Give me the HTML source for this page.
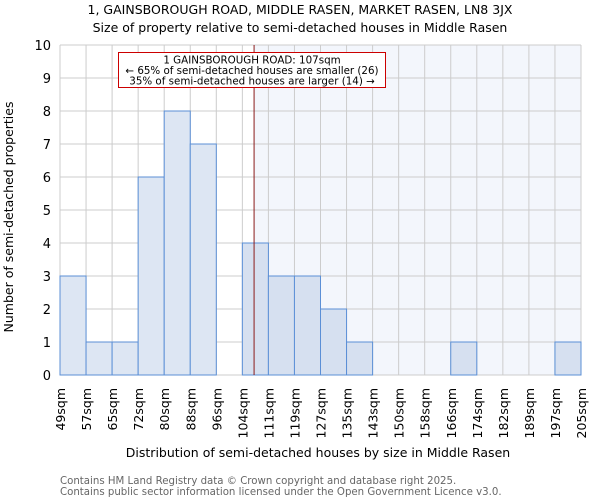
<!DOCTYPE html>
<html><head><meta charset="utf-8"><style>
body{margin:0;background:#fff;font-family:"DejaVu Sans","Liberation Sans",sans-serif}
</style></head><body>
<svg width="600" height="500" xmlns="http://www.w3.org/2000/svg" font-family="DejaVu Sans, Liberation Sans, sans-serif">
<text x="300" y="14" text-anchor="middle" font-size="12.5">1, GAINSBOROUGH ROAD, MIDDLE RASEN, MARKET RASEN, LN8 3JX</text>
<text x="300" y="32" text-anchor="middle" font-size="12.5">Size of property relative to semi-detached houses in Middle Rasen</text>
<g id="plot"></g>
<text x="318" y="457" text-anchor="middle" font-size="12.5">Distribution of semi-detached houses by size in Middle Rasen</text>
<text transform="translate(13,217) rotate(-90)" text-anchor="middle" font-size="12.5">Number of semi-detached properties</text>
<text x="60" y="484" font-size="10.2" fill="#666">Contains HM Land Registry data © Crown copyright and database right 2025.</text>
<text x="60" y="495" font-size="10.2" fill="#666">Contains public sector information licensed under the Open Government Licence v3.0.</text>
</svg>
<script>
const binLabels=["49sqm","57sqm","65sqm","72sqm","80sqm","88sqm","96sqm","104sqm","111sqm","119sqm","127sqm","135sqm","143sqm","150sqm","158sqm","166sqm","174sqm","182sqm","189sqm","197sqm","205sqm"];
const counts=[3,1,1,6,8,7,0,4,3,3,2,1,0,0,0,1,0,0,0,1];
const yTicks=[0,1,2,3,4,5,6,7,8,9,10];
const propertyBin=7.45;
const X0=60,X1=581,Y0=375,Y1=45,N=counts.length,YMAX=10;
const x=i=>X0+(X1-X0)*i/N;
const y=v=>Y0-(Y0-Y1)*v/YMAX;
const NS="http://www.w3.org/2000/svg";
const g=document.getElementById('plot');
function mk(t,a){const e=document.createElementNS(NS,t);for(const k in a)e.setAttribute(k,a[k]);g.appendChild(e);return e;}
let e;
e=mk('rect',{x:x(propertyBin),y:Y1,width:X1-x(propertyBin),height:Y0-Y1,fill:'#f3f6fc'});


for(const t of yTicks){
 e=mk('line',{x1:X0,x2:X1,y1:y(t),y2:y(t),stroke:'#ccc','stroke-width':1});
 
 
 e=mk('text',{x:X0-9,y:y(t)+5,'text-anchor':'end','font-size':13});
 e.textContent=t;
 
 
}
for(let i=0;i<=N;i++){
 e=mk('line',{x1:x(i),x2:x(i),y1:Y1,y2:Y0,stroke:'#ccc','stroke-width':1});
 
 
 e=mk('text',{transform:`translate(${x(i)+5},${388}) rotate(-90)`,'text-anchor':'end','font-size':12.5});
 e.textContent=binLabels[i];
 
 
}
counts.forEach((c,i)=>{
 if(c<=0)return;
 e=mk('rect',{x:x(i),y:y(c),width:x(i+1)-x(i),height:y(0)-y(c),fill:i>=7?'#d6e0f0':'#dde6f3',stroke:'#5b8fd6','stroke-width':1});
 
 
});
e=mk('line',{x1:x(propertyBin),x2:x(propertyBin),y1:Y1,y2:Y0,stroke:'#8b1a1a','stroke-width':1});


e=mk('rect',{x:118.5,y:52.5,width:267,height:35,fill:'#fff',stroke:'#c00','stroke-width':1});


const ann=["1 GAINSBOROUGH ROAD: 107sqm","← 65% of semi-detached houses are smaller (26)","35% of semi-detached houses are larger (14) →"];
ann.forEach((s,k)=>{
 e=mk('text',{x:252,y:63.5+k*10.5,'text-anchor':'middle','font-size':10.3});
 e.textContent=s;
 
 
});
</script>
</body></html>
